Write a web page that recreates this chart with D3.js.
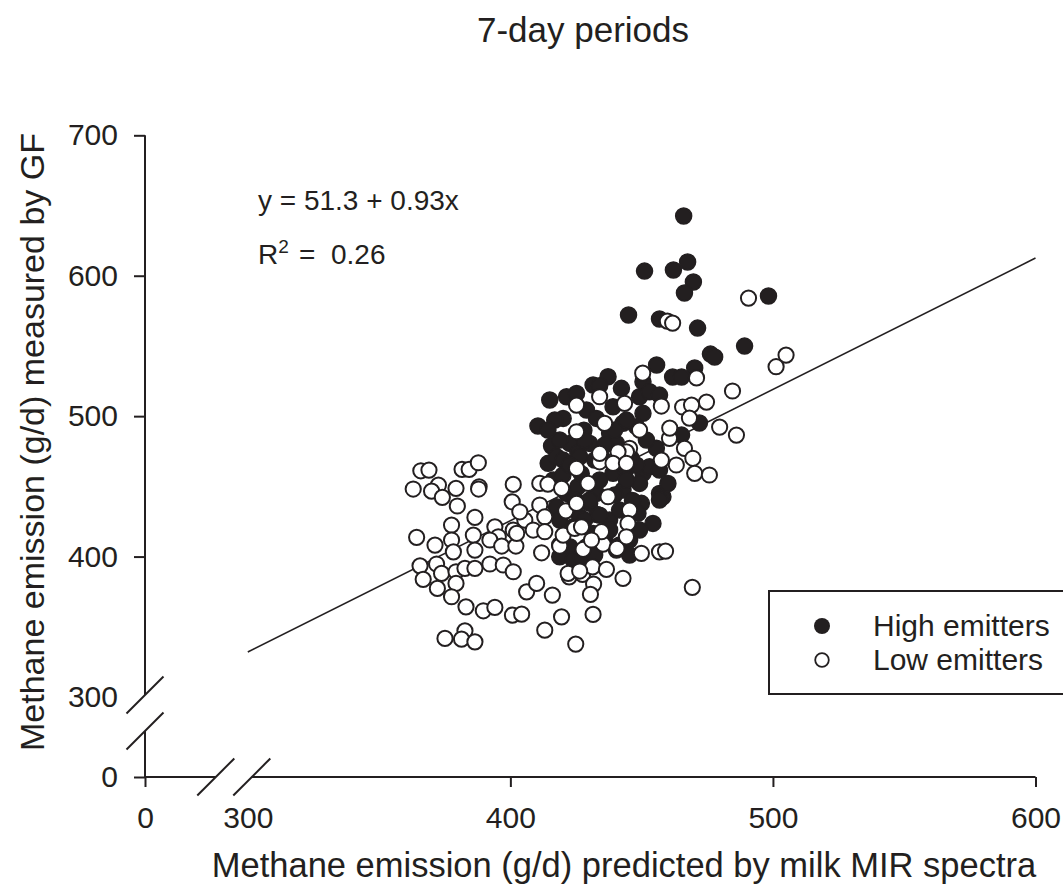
<!DOCTYPE html>
<html><head><meta charset="utf-8">
<script src="https://cdn.jsdelivr.net/npm/d3@7"></script>
<style>
body{margin:0;background:#fff}
text{font-family:"Liberation Sans",Arial,Helvetica,sans-serif;fill:#231f20}
</style>
</head><body>
<svg id="c" width="1063" height="894"></svg>
<script>
// ---- data (g/d) ----
const titleText = "7-day periods";
const xTitle = "Methane emission (g/d) predicted by milk MIR spectra";
const yTitle = "Methane emission (g/d) measured by GF";
const xTicks = [0, 300, 400, 500, 600];
const yTicks = [0, 300, 400, 500, 600, 700];
const fitX = [300, 600];
const fitY = [332.1, 612.6];
const equation = "y = 51.3 + 0.93x";
const r2Value = "0.26";
const seriesNames = ["High emitters", "Low emitters"];

const highEmitters = [
[466.0,642.5],[451.1,603.3],[462.1,604.1],[467.5,609.8],[469.7,595.5],[466.3,587.7],[498.3,585.6],[445.0,572.0],
[456.8,569.2],[471.3,562.7],[489.2,549.9],[476.2,544.2],[477.8,542.1],[455.7,536.4],[470.2,534.3],[461.8,527.9],
[465.2,527.9],[472.0,495.1],[465.2,486.5],[410.5,493.0],
[421.4,513.8],[425.2,516.2],[415.7,478.7],[414.4,466.4],[417.6,471.1],[416.3,454.5],[420.1,498.4],[422.6,480.6],
[421.4,445.0],[417.6,435.5],[418.8,426.0],[422.6,407.0],[418.8,399.9],[423.9,397.5],[425.7,473.7],[425.7,449.7],
[437.2,528.1],[431.5,522.2],[442.3,519.8],[450.5,524.5],[449.2,513.8],[453.0,517.4],[456.8,515.0],[429.0,504.4],
[439.1,506.7],[432.8,498.4],[442.9,494.9],[450.5,502.0],[448.0,492.5],[430.2,480.6],[437.8,487.8],[440.4,480.6],
[426.4,471.1],[420.1,468.7],[450.5,459.3],[453.0,464.0],[449.2,452.1],[456.8,445.0],[458.1,442.6],[442.9,447.4],
[432.8,445.0],[439.1,459.3],[455.6,477.1],[449.9,437.9],[448.6,430.8],[454.3,423.6],[437.8,426.0],[426.4,428.3],
[430.2,437.9],[441.6,433.1],[445.4,411.8],[440.4,404.6],[429.0,407.0],[431.5,416.5],[423.9,421.2],[445.4,401.1],
[434.0,521.7],[428.0,490.0],[435.0,470.0],[444.0,462.0],[420.0,458.0],[427.0,459.0],[433.0,430.0],[425.0,440.0],
[436.0,412.0],[427.0,400.0],[446.0,470.0],[460.0,452.0],[446.5,440.0],
[416.9,497.2],[418.8,483.0],[422.6,465.2],[428.3,483.0],[432.1,468.7],[435.9,479.4],[439.7,490.1],[444.2,497.2],
[434.0,454.5],[439.7,443.8],[444.2,454.5],[448.0,465.2],[424.5,440.2],[428.3,426.0],[434.0,429.5],[437.8,418.9],
[441.6,408.2],[432.1,401.1],[418.8,408.2],[451.8,483.0],[456.8,461.6],[449.2,418.9],[456.8,440.2],[415.0,511.5],
[414.3,490.1],[430.2,440.2],[445.4,468.7]
];

const lowEmitters = [
[365.9,461.1],[369.0,461.6],[363.0,448.1],[372.6,450.9],[370.0,446.6],[374.1,442.2],[379.3,448.6],[379.8,436.0],
[381.6,462.1],[384.3,462.1],[387.8,466.8],[388.1,449.7],[387.9,448.1],[401.1,451.4],[400.7,439.0],[411.2,452.1],
[377.6,422.4],[386.5,427.9],[364.3,413.7],[371.3,408.2],[377.6,411.8],[378.3,403.4],[385.9,415.3],[386.5,404.6],
[394.1,421.2],[395.4,414.1],[392.2,411.8],[396.7,407.5],[402.1,407.5],[405.5,426.0],[401.1,418.9],[408.7,418.9],
[365.6,393.4],[371.9,394.7],[366.8,383.8],[373.8,388.0],[379.3,389.2],[382.7,391.6],[386.5,391.6],[392.2,394.7],
[397.3,394.0],[401.1,389.2],[372.2,377.3],[379.3,380.9],[377.6,371.4],[383.1,364.2],[389.7,361.4],[394.1,363.8],
[400.8,358.3],[404.3,359.0],[406.2,374.9],[410.0,380.9],[413.1,347.6],[375.1,341.7],[382.7,347.1],[381.4,341.2],
[386.5,339.3],
[411.9,402.7],[418.8,407.5],[427.7,405.1],[435.3,408.9],[440.6,405.8],[449.9,402.3],[456.8,403.4],[459.1,403.9],
[422.4,385.6],[427.5,387.3],[431.3,392.7],[436.6,390.9],[431.7,380.4],[442.9,384.5],[430.5,373.1],[416.0,372.6],
[419.5,357.1],[431.5,358.8],[424.9,337.7],[469.3,378.1],
[414.3,451.6],[419.5,448.6],[403.6,431.9],[411.2,436.7],[413.1,428.3],[421.1,432.6],[420.1,415.3],[413.1,417.7],
[402.4,416.5],[424.5,420.1],[425.2,437.9],[425.2,488.9],[425.2,507.9],[425.2,462.8],[422.0,388.0],
[434.0,513.8],[443.5,509.1],[457.5,507.2],[435.9,494.9],[449.2,490.1],[460.6,484.2],[466.3,477.1],[469.5,470.0],
[463.2,465.2],[457.5,468.7],[470.2,459.3],[475.8,458.1],[445.4,477.1],[444.2,474.6],[441.0,474.6],[434.0,467.5],
[439.1,466.4],[444.2,466.4],[434.0,473.5],[429.6,452.1],[437.2,442.6],[445.4,433.1],[444.8,423.6],[434.7,417.7],
[444.2,414.1],[427.1,421.2],[430.9,411.8],[426.4,389.7],
[490.7,584.1],[459.8,567.7],[461.8,566.3],[505.0,543.5],[501.2,535.2],[470.9,527.2],[450.4,530.6],[484.6,517.9],
[474.7,510.0],[465.6,506.5],[469.0,507.9],[468.2,498.6],[479.7,492.2],[486.1,486.5],[460.7,491.5]
];

// ---- drawing ----
const ink = "#231f20";
const svg = d3.select("#c");

// broken scales: 0 and 300.. share the axis with a gap
const x = d3.scaleLinear().domain([0, 300, 600]).range([145, 247.8, 1035.5]);
const y = d3.scaleLinear().domain([0, 300, 700]).range([777, 697, 135.3]);

// title
svg.append("text").attr("x", 583).attr("y", 42).attr("text-anchor", "middle")
  .style("font-size", "35px").text(titleText);

// axes
const gx = svg.append("g").attr("transform", `translate(0,${y(0)})`)
  .call(d3.axisBottom(x).tickValues(xTicks).tickSize(10).tickPadding(20).tickSizeOuter(0)
    .tickFormat(d3.format("d")));
const gy = svg.append("g").attr("transform", `translate(${x(0)},0)`)
  .call(d3.axisLeft(y).tickValues(yTicks).tickSize(11).tickPadding(16).tickSizeOuter(0)
    .tickFormat(d3.format("d")));
[gx, gy].forEach(g => {
  g.select(".domain").remove();
  g.selectAll(".tick line").attr("stroke", ink).attr("stroke-width", 2);
  g.selectAll(".tick text").attr("fill", ink).style("font-size", "30px")
    .style("font-family", '"Liberation Sans",Arial,sans-serif');
  g.selectAll(".tick").filter(d => d === 300).select("line").remove();
});

// axis lines with breaks
const xb1 = x(300) - 32, xb2 = x(300) + 4;   // x break positions
const yb1 = y(300) - 2, yb2 = y(300) + 34;   // y break positions
const axisG = svg.append("g").attr("stroke", ink).attr("stroke-width", 2).attr("fill", "none");
axisG.append("line").attr("x1", x(0)).attr("x2", xb1).attr("y1", y(0)).attr("y2", y(0));
axisG.append("line").attr("x1", xb2).attr("x2", x(600)).attr("y1", y(0)).attr("y2", y(0));
axisG.append("line").attr("x1", x(0)).attr("x2", x(0)).attr("y1", y(700)).attr("y2", yb1);
axisG.append("line").attr("x1", x(0)).attr("x2", x(0)).attr("y1", yb2).attr("y2", y(0));
const h = 18.5;
[[xb1, y(0)], [xb2, y(0)], [x(0), yb1], [x(0), yb2]].forEach(([cx, cy]) => {
  axisG.append("line").attr("x1", cx - h).attr("y1", cy + h).attr("x2", cx + h).attr("y2", cy - h);
});

// axis titles
svg.append("text").attr("x", 624).attr("y", 877).attr("text-anchor", "middle")
  .style("font-size", "34.5px").text(xTitle);
svg.append("text").attr("transform", "translate(44,442) rotate(-90)").attr("text-anchor", "middle")
  .style("font-size", "34px").text(yTitle);

// regression line
svg.append("line").attr("x1", x(fitX[0])).attr("y1", y(fitY[0]))
  .attr("x2", x(fitX[1])).attr("y2", y(fitY[1]))
  .attr("stroke", ink).attr("stroke-width", 1.6);

// points
svg.append("g").selectAll("circle").data(highEmitters).join("circle")
  .attr("cx", d => x(d[0])).attr("cy", d => y(d[1])).attr("r", 8)
  .attr("fill", ink).attr("stroke", ink).attr("stroke-width", 1.5);
svg.append("g").selectAll("circle").data(lowEmitters).join("circle")
  .attr("cx", d => x(d[0])).attr("cy", d => y(d[1])).attr("r", 7.6)
  .attr("fill", "#fff").attr("stroke", ink).attr("stroke-width", 2);

// equation
svg.append("text").attr("x", 258).attr("y", 210).style("font-size", "28px").text(equation);
const r2 = svg.append("text").attr("x", 258).attr("y", 264).style("font-size", "28px");
r2.append("tspan").text("R");
r2.append("tspan").attr("dy", -11).style("font-size", "19px").text("2");
r2.append("tspan").attr("x", 299).attr("dy", 11).text("=");
r2.append("tspan").attr("x", 331).text(r2Value);

// legend
const lg = svg.append("g");
lg.append("rect").attr("x", 769).attr("y", 591).attr("width", 330).attr("height", 103)
  .attr("fill", "#fff").attr("stroke", ink).attr("stroke-width", 2);
lg.append("circle").attr("cx", 822).attr("cy", 626).attr("r", 8).attr("fill", ink);
lg.append("circle").attr("cx", 822).attr("cy", 660).attr("r", 6.8).attr("fill", "#fff")
  .attr("stroke", ink).attr("stroke-width", 1.8);
lg.append("text").attr("x", 873).attr("y", 636).style("font-size", "30px").text(seriesNames[0]);
lg.append("text").attr("x", 873).attr("y", 670).style("font-size", "30px").text(seriesNames[1]);
</script>
</body></html>
